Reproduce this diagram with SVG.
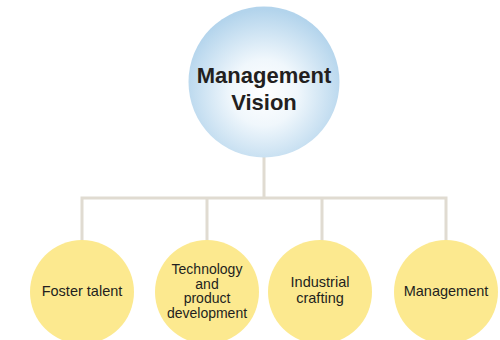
<svg xmlns="http://www.w3.org/2000/svg" width="500" height="340" viewBox="0 0 500 340">
<defs>
<radialGradient id="g" cx="0.5" cy="0.57" r="0.55">
<stop offset="0" stop-color="#ffffff"/>
<stop offset="0.4" stop-color="#f0f7fc"/>
<stop offset="1" stop-color="#b3d4ec"/>
</radialGradient>
<style>
.c{fill:none;stroke:#e0dbd1;stroke-width:3}
.y{fill:#fce98f}
.t{font-family:"Liberation Sans",Arial,sans-serif;font-size:14.5px;fill:#231f20;text-anchor:middle}
.s{font-size:14px}
.b{font-family:"Liberation Sans",Arial,sans-serif;font-size:22px;font-weight:bold;fill:#231f20;text-anchor:middle}
</style>
</defs>
<rect width="500" height="340" fill="#fff"/>
<g id="connectors">
<path class="c" d="M264 150 V198 M82 242 V198 H446 V242 M207 198 V242 M322 198 V242"/>
</g>
<g id="vision">
<circle cx="264" cy="82" r="75.5" fill="url(#g)"/>
<text class="b" x="264" y="83">Management</text>
<text class="b" x="264" y="110">Vision</text>
</g>
<g id="foster">
<circle class="y" cx="82" cy="292" r="52"/>
<text class="t" x="82" y="296">Foster talent</text>
</g>
<g id="tech">
<circle class="y" cx="207" cy="292" r="52"/>
<text class="t s" x="207" y="274">Technology</text>
<text class="t s" x="207" y="288.7">and</text>
<text class="t s" x="207" y="303.4">product</text>
<text class="t s" x="207" y="318">development</text>
</g>
<g id="industrial">
<circle class="y" cx="320" cy="292" r="52"/>
<text class="t" x="320" y="287">Industrial</text>
<text class="t" x="320" y="303">crafting</text>
</g>
<g id="management">
<circle class="y" cx="446" cy="292" r="52"/>
<text class="t" x="446" y="296">Management</text>
</g>
</svg>
